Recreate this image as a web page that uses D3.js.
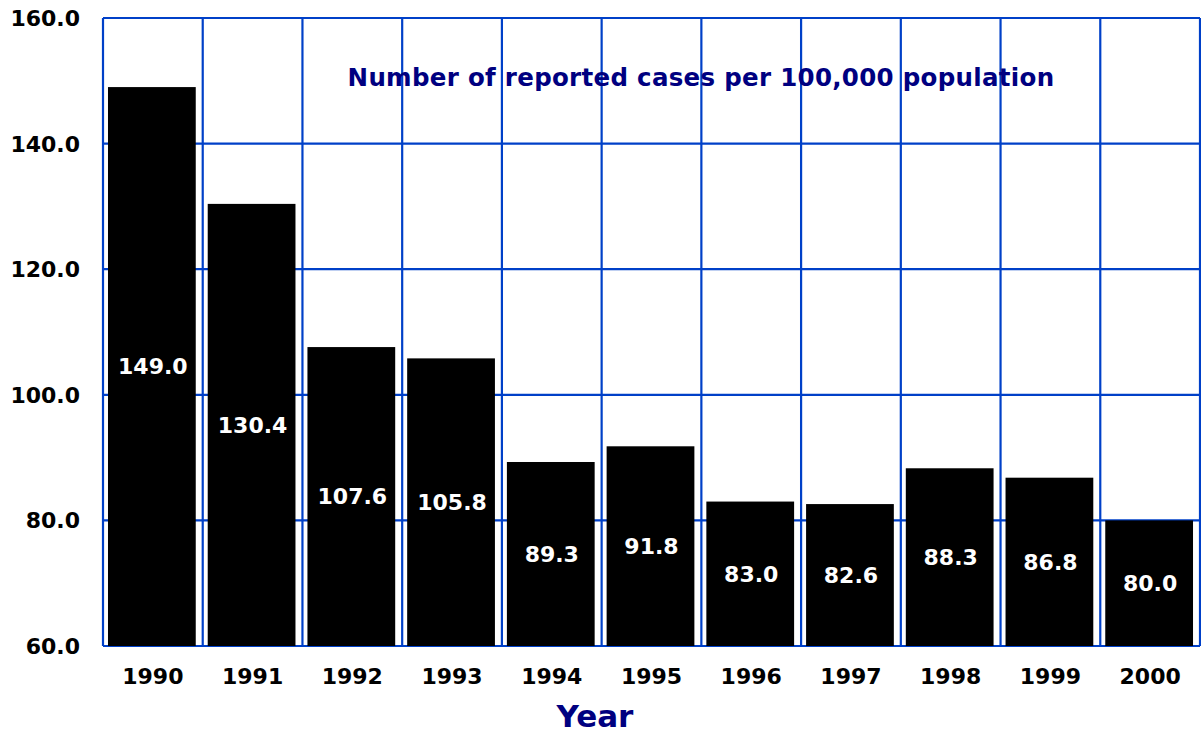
<!DOCTYPE html>
<html><head><meta charset="utf-8">
<script src="https://cdn.jsdelivr.net/npm/d3@7"></script>
<style>body{margin:0;background:#fff}svg{display:block}</style>
</head><body>
<svg id="c" width="1201" height="734"></svg>
<script>
const years = ["1990","1991","1992","1993","1994","1995","1996","1997","1998","1999","2000"];
const rates = [149.0,130.4,107.6,105.8,89.3,91.8,83.0,82.6,88.3,86.8,80.0];
const yTicks = [60,80,100,120,140,160];

const svg = d3.select("#c");
const m = {left:103, right:1200, top:18, bottom:646};
const x = d3.scaleBand().domain(years).range([m.left, m.right]).paddingInner(0).paddingOuter(0);
const y = d3.scaleLinear().domain([60,160]).range([m.bottom, m.top]);
const grid = "#0040c8";
const font = "'DejaVu Sans', Verdana, sans-serif";

// grid
svg.append("g").selectAll("line").data(yTicks).join("line")
  .attr("x1", m.left).attr("x2", m.right)
  .attr("y1", d=>y(d)).attr("y2", d=>y(d))
  .attr("stroke", grid).attr("stroke-width", 2.2);
const bounds = years.map(d=>x(d)).concat([m.right]);
svg.append("g").selectAll("line").data(bounds).join("line")
  .attr("x1", d=>d).attr("x2", d=>d)
  .attr("y1", m.top).attr("y2", m.bottom)
  .attr("stroke", grid).attr("stroke-width", 2.2);

// bars
const bw = x.bandwidth();
svg.append("g").selectAll("rect").data(years).join("rect")
  .attr("x", d=>x(d)+bw*0.05)
  .attr("width", bw*0.88)
  .attr("y", (d,i)=>y(rates[i]))
  .attr("height", (d,i)=>y(60)-y(rates[i]))
  .attr("fill", "#000");

// value labels
svg.append("g").selectAll("text").data(years).join("text")
  .attr("x", d=>x(d)+bw*0.5)
  .attr("y", (d,i)=>(y(rates[i])+y(60))/2)
  .attr("dy", "0.36em")
  .attr("text-anchor","middle")
  .attr("fill","#fff").attr("font-family",font).attr("font-weight","bold").attr("font-size",22)
  .text((d,i)=>rates[i].toFixed(1));

// y axis labels
svg.append("g").selectAll("text").data(yTicks).join("text")
  .attr("x", 80).attr("y", d=>y(d)).attr("dy","0.36em")
  .attr("text-anchor","end")
  .attr("fill","#000").attr("font-family",font).attr("font-weight","bold").attr("font-size",22)
  .text(d=>d.toFixed(1));

// x axis labels
svg.append("g").selectAll("text").data(years).join("text")
  .attr("x", d=>x(d)+bw*0.5).attr("y", 684)
  .attr("text-anchor","middle")
  .attr("fill","#000").attr("font-family",font).attr("font-weight","bold").attr("font-size",22)
  .text(d=>d);

// title inside plot
svg.append("text").attr("x", 701).attr("y", 86).attr("text-anchor","middle")
  .attr("fill","#000080").attr("font-family",font).attr("font-weight","bold").attr("font-size",24.5)
  .attr("letter-spacing", 0.3)
  .text("Number of reported cases per 100,000 population");

// x axis title
svg.append("text").attr("x", 595).attr("y", 727).attr("text-anchor","middle")
  .attr("fill","#000080").attr("font-family",font).attr("font-weight","bold").attr("font-size",31)
  .text("Year");
</script>
</body></html>
